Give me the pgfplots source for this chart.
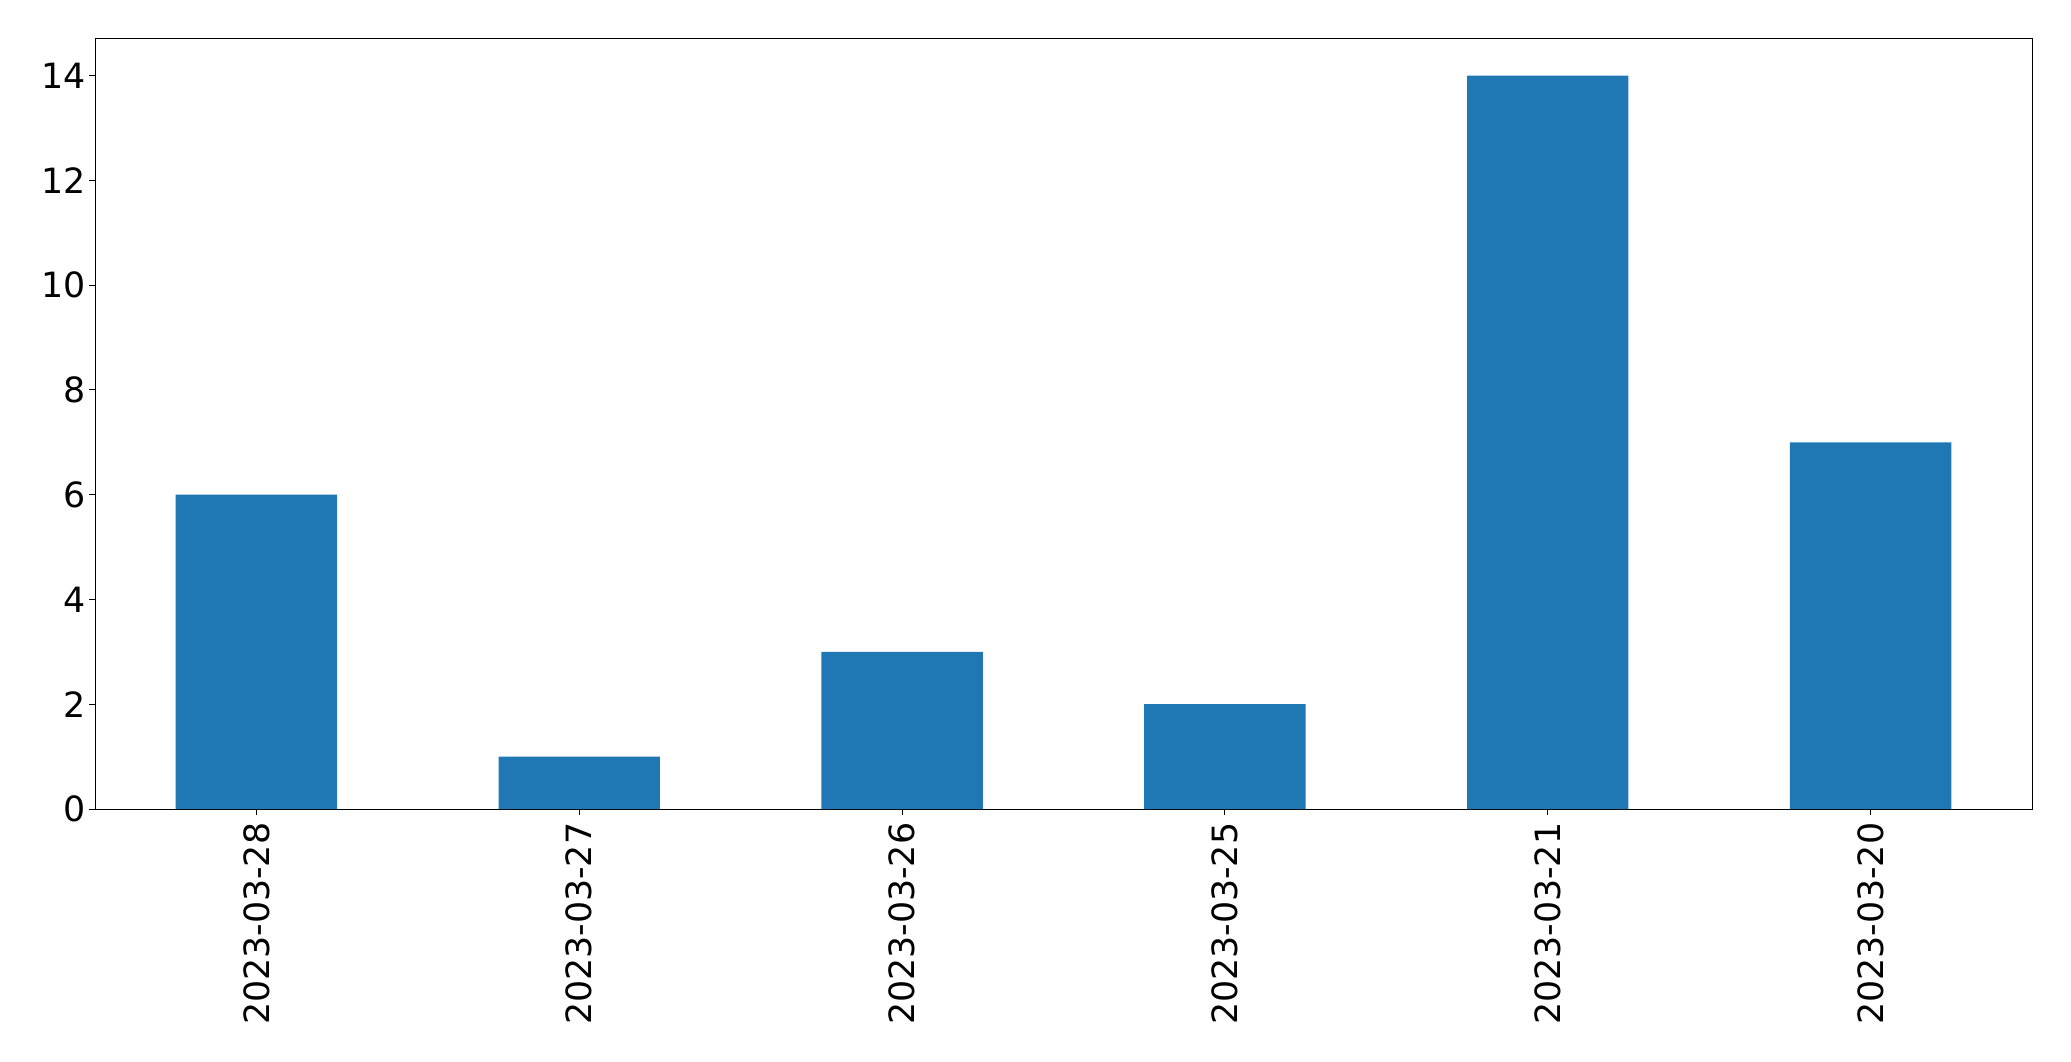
\documentclass[border=0pt]{standalone}
\usepackage{pgfplots}
\pgfplotsset{compat=1.18}
\usepackage{fontspec}
\setmainfont{DejaVu Sans}
\definecolor{mplblue}{HTML}{1F77B4}
\begin{document}
\begin{tikzpicture}
\useasboundingbox (0,0) rectangle (1035.5pt,530.5pt);
\begin{axis}[
  at={(47.5pt,126pt)}, anchor=south west,
  scale only axis, width=968.5pt, height=385pt,
  xmin=-0.5, xmax=5.5, ymin=0, ymax=14.7,
  xtick={0,1,2,3,4,5},
  xticklabels={2023-03-28,2023-03-27,2023-03-26,2023-03-25,2023-03-21,2023-03-20},
  ytick={0,2,4,6,8,10,12,14},
  tick align=outside, major tick length=2.85pt,
  tick style={black, line width=0.5pt},
  axis line style={line width=0.5pt},
  xtick pos=bottom, ytick pos=left,
  /pgf/number format/assume math mode=true,
  ticklabel style={font=\fontsize{17.4pt}{20pt}\selectfont},
  yticklabel style={inner sep=0pt, anchor=east, xshift=-1.8pt},
  xticklabel style={yshift=-3.8pt, inner sep=0pt, rotate=90, anchor=east},
]
\addplot[ybar, bar width=0.5, fill=mplblue, draw=none] coordinates {
  (0,6) (1,1) (2,3) (3,2) (4,14) (5,7)
};
\end{axis}
\end{tikzpicture}
\end{document}
